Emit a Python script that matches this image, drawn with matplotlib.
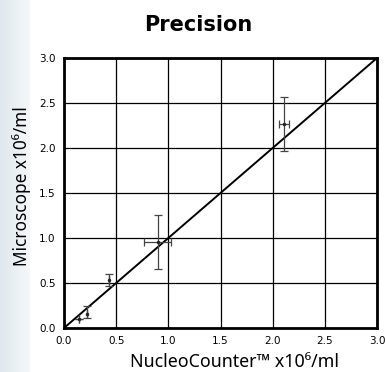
import numpy as np
import matplotlib
matplotlib.use("Agg")
import matplotlib.pyplot as plt

# data
nucleo = [0.14, 0.22, 0.43, 0.90, 2.11]
micro = [0.10, 0.16, 0.53, 0.96, 2.27]
nucleo_err = [0.0, 0.0, 0.0, 0.13, 0.05]
micro_err_low = [0.0, 0.05, 0.06, 0.30, 0.30]
micro_err_high = [0.0, 0.08, 0.07, 0.30, 0.30]
ticks = [0.0, 0.5, 1.0, 1.5, 2.0, 2.5, 3.0]
tick_labels = ["0.0", "0.5", "1.0", "1.5", "2.0", "2.5", "3.0"]

label_font = ["Noto Sans", "DejaVu Sans"]

fig = plt.figure(figsize=(3.85, 3.72), dpi=100)
fig.patch.set_facecolor("white")

# light blue strip on the left edge
bg = fig.add_axes([0, 0, 30 / 385, 1])
grad = np.linspace(0, 1, 50).reshape(1, -1)
bg.imshow(grad, aspect="auto", cmap=matplotlib.colors.LinearSegmentedColormap.from_list(
    "strip", ["#dfe8ee", "#f5f8fa"]), extent=[0, 1, 0, 1])
bg.set_axis_off()

ax = fig.add_axes([64 / 385, 44 / 372, 313 / 385, 270 / 372])

ax.plot([0, 3], [0, 3], color="black", lw=1.4, zorder=3)
ax.errorbar(nucleo, micro, xerr=nucleo_err,
            yerr=[micro_err_low, micro_err_high],
            fmt="o", ms=1.5, color="#222222", ecolor="#444444",
            elinewidth=0.9, capsize=3, capthick=0.9, zorder=4)

ax.set_xlim(0, 3)
ax.set_ylim(0, 3)
ax.set_xticks(ticks)
ax.set_yticks(ticks)
ax.set_xticklabels(tick_labels, fontsize=7.5, family="DejaVu Sans")
ax.set_yticklabels(tick_labels, fontsize=7.5, family="DejaVu Sans")
ax.tick_params(length=0, pad=6)
ax.grid(True, color="black", lw=0.9)
ax.set_axisbelow(True)
for s in ax.spines.values():
    s.set_linewidth(2)

fig.text(0.514, 0.932, "Precision", ha="center", va="center",
         fontsize=15, fontweight="bold", family="DejaVu Sans")
fig.text(0.608, 0.027, "NucleoCounter\u2122 x10\u2076/ml", ha="center", va="center",
         fontsize=12.8, family=label_font)
fig.text(0.057, 0.50, "Microscope x10\u2076/ml", ha="center", va="center",
         rotation=90, fontsize=12.4, family=label_font)

fig.savefig("out.png", dpi=100)
